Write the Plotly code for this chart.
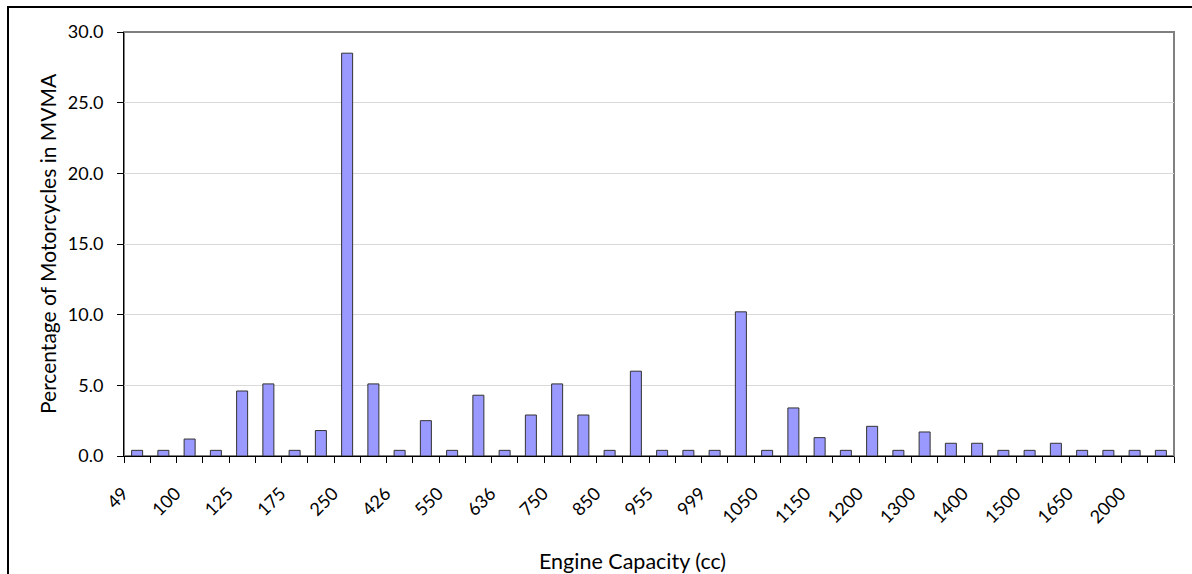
import plotly.graph_objects as go

# ---- data ----
tick_labels = ["49", "100", "125", "175", "250", "426", "550", "636", "750", "850",
               "955", "999", "1050", "1150", "1200", "1300", "1400", "1500", "1650", "2000"]
percent = [0.4, 0.4, 1.2, 0.4, 4.6, 5.1, 0.4, 1.8, 28.5, 5.1,
           0.4, 2.5, 0.4, 4.3, 0.4, 2.9, 5.1, 2.9, 0.4, 6.0,
           0.4, 0.4, 0.4, 10.2, 0.4, 3.4, 1.3, 0.4, 2.1, 0.4,
           1.7, 0.9, 0.9, 0.4, 0.4, 0.9, 0.4, 0.4, 0.4, 0.4]
y_ticks = [0, 5, 10, 15, 20, 25, 30]
x_title = "Engine Capacity (cc)"
y_title = "Percentage of Motorcycles in MVMA"

n = len(percent)
positions = list(range(n))
label_positions = positions[::2]

W, H = 1192, 574
L, R, T, B = 124, 18, 32, 118
pw, ph = W - L - R, H - T - B

def px_x(p):
    return (p - L) / pw

def px_y(p):
    return (H - B - p) / ph

FONT = "Lato"

fig = go.Figure()
fig.add_trace(go.Bar(
    x=positions, y=percent,
    marker=dict(color="#9999FF", line=dict(color="#333333", width=1)),
    hoverinfo="y",
))

fig.update_layout(
    width=W, height=H,
    margin=dict(l=L, r=R, t=T, b=B, pad=0),
    paper_bgcolor="white", plot_bgcolor="white",
    bargap=0.58,
    showlegend=False,
    font=dict(family=FONT, color="black", size=18),
    xaxis=dict(
        range=[-0.5, n - 0.5],
        tickmode="array",
        tickvals=label_positions,
        ticktext=tick_labels,
        tickangle=-45,
        ticks="",
        ticklabelstandoff=19,
        ticklabelshift=-14,
        showline=True, linecolor="black", linewidth=1,
        showgrid=False, zeroline=False,
        tickfont=dict(family=FONT, size=18, color="black"),
        minor=dict(
            tickmode="array",
            tickvals=[p - 0.5 for p in positions] + [n - 0.5],
            ticks="outside", ticklen=6, tickwidth=1, tickcolor="black",
            showgrid=False,
        ),
        fixedrange=True,
    ),
    yaxis=dict(
        range=[0, 30],
        tickmode="array",
        tickvals=y_ticks,
        tickformat=".1f",
        ticks="outside", ticklen=6, tickwidth=1, tickcolor="black",
        ticklabelstandoff=10,
        showline=True, linecolor="black", linewidth=1,
        showgrid=True, gridcolor="#d9d9d9", gridwidth=1,
        zeroline=False,
        tickfont=dict(family=FONT, size=18, color="black"),
        fixedrange=True,
    ),
    shapes=[
        # plot-area border (grey top / right)
        dict(type="rect", xref="paper", yref="paper", x0=0, x1=1, y0=0, y1=1,
             line=dict(color="#808080", width=2), layer="below"),
        # chart-area border
        dict(type="rect", xref="paper", yref="paper",
             x0=px_x(8), x1=px_x(W + 10), y0=px_y(H + 10), y1=px_y(7),
             line=dict(color="black", width=2)),
    ],
    annotations=[
        dict(text=y_title, xref="paper", yref="paper", x=px_x(47), y=0.5,
             textangle=-90, showarrow=False, xanchor="center", yanchor="middle",
             font=dict(family=FONT, size=21, color="black")),
        dict(text=x_title, xref="paper", yref="paper", x=px_x(632), y=px_y(561),
             showarrow=False, xanchor="center", yanchor="middle",
             font=dict(family=FONT, size=21.5, color="black")),
    ],
)

fig.write_html("out.html", config={"displayModeBar": False},
               post_script="document.body.style.margin='0';document.body.style.overflow='hidden';")
